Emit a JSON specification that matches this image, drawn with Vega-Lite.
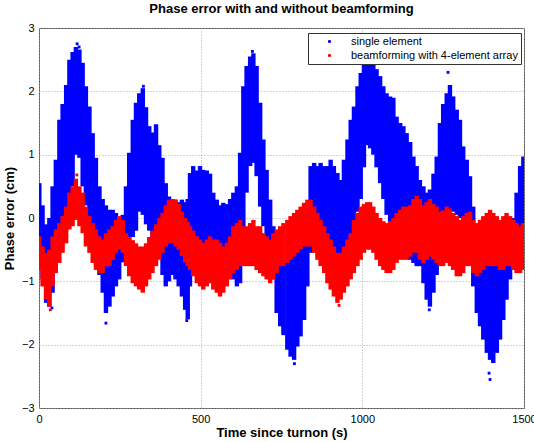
{
  "$schema": "https://vega.github.io/schema/vega-lite/v6.json",
  "width": 485,
  "height": 380,
  "autosize": {"type": "none"},
  "padding": {"left": 39, "top": 28, "right": 10, "bottom": 34},
  "background": "white",
  "title": {"text": "Phase error with and without beamforming", "fontSize": 13, "fontWeight": "bold", "font": "Liberation Sans", "anchor": "middle", "offset": 6, "color": "black"},
  "config": {
    "view": {"stroke": "#555", "strokeWidth": 1},
    "axis": {"labelFont": "Liberation Sans", "labelFontSize": 11, "labelColor": "black", "titleFont": "Liberation Sans", "titleFontSize": 13, "titleFontWeight": "bold", "titleColor": "black", "domain": false, "ticks": false, "gridColor": "#aaaaaa", "gridDash": [1, 2], "gridWidth": 1}
  },
  "datasets": {
    "blue": [
      {"s":"single element","t":1,"lo":-0.6,"hi":0.55},{"s":"single element","t":11,"lo":-0.97,"hi":0.2},{"s":"single element","t":22,"lo":-1.34,"hi":-0.1},{"s":"single element","t":32,"lo":-1.4,"hi":0.0},{"s":"single element","t":42,"lo":-1.18,"hi":0.5},{"s":"single element","t":52,"lo":-0.8,"hi":0.92},{"s":"single element","t":63,"lo":-0.5,"hi":1.55},{"s":"single element","t":73,"lo":-0.3,"hi":1.8},{"s":"single element","t":84,"lo":-0.2,"hi":2.1},{"s":"single element","t":94,"lo":0.0,"hi":2.5},{"s":"single element","t":104,"lo":0.5,"hi":2.62},{"s":"single element","t":114,"lo":1.0,"hi":2.7},{"s":"single element","t":125,"lo":0.95,"hi":2.66},{"s":"single element","t":135,"lo":0.5,"hi":2.45},{"s":"single element","t":145,"lo":0.2,"hi":2.08},{"s":"single element","t":156,"lo":-0.1,"hi":1.76},{"s":"single element","t":166,"lo":-0.3,"hi":1.34},{"s":"single element","t":176,"lo":-0.6,"hi":0.95},{"s":"single element","t":187,"lo":-0.9,"hi":0.5},{"s":"single element","t":197,"lo":-1.18,"hi":0.3},{"s":"single element","t":207,"lo":-1.5,"hi":0.2},{"s":"single element","t":218,"lo":-1.4,"hi":0.13},{"s":"single element","t":228,"lo":-1.24,"hi":0.13},{"s":"single element","t":238,"lo":-1.08,"hi":0.08},{"s":"single element","t":248,"lo":-0.97,"hi":0.0},{"s":"single element","t":259,"lo":-0.7,"hi":0.05},{"s":"single element","t":269,"lo":-0.5,"hi":0.5},{"s":"single element","t":279,"lo":-0.4,"hi":1.03},{"s":"single element","t":290,"lo":-0.3,"hi":1.55},{"s":"single element","t":300,"lo":-0.2,"hi":1.82},{"s":"single element","t":310,"lo":0.1,"hi":1.97},{"s":"single element","t":321,"lo":0.05,"hi":2.05},{"s":"single element","t":331,"lo":-0.1,"hi":1.75},{"s":"single element","t":341,"lo":-0.2,"hi":1.45},{"s":"single element","t":351,"lo":-0.3,"hi":1.35},{"s":"single element","t":362,"lo":-0.4,"hi":1.48},{"s":"single element","t":372,"lo":-0.6,"hi":1.15},{"s":"single element","t":382,"lo":-0.9,"hi":0.95},{"s":"single element","t":392,"lo":-1.08,"hi":0.55},{"s":"single element","t":402,"lo":-1.0,"hi":0.34},{"s":"single element","t":412,"lo":-0.9,"hi":0.3},{"s":"single element","t":422,"lo":-0.97,"hi":0.29},{"s":"single element","t":432,"lo":-1.08,"hi":0.25},{"s":"single element","t":442,"lo":-1.24,"hi":0.29},{"s":"single element","t":452,"lo":-1.45,"hi":0.25},{"s":"single element","t":460,"lo":-1.6,"hi":0.3},{"s":"single element","t":467,"lo":-1.08,"hi":0.71},{"s":"single element","t":477,"lo":-0.9,"hi":0.82},{"s":"single element","t":488,"lo":-0.8,"hi":0.75},{"s":"single element","t":498,"lo":-0.66,"hi":0.82},{"s":"single element","t":508,"lo":-0.6,"hi":0.76},{"s":"single element","t":519,"lo":-0.5,"hi":0.75},{"s":"single element","t":529,"lo":-0.5,"hi":0.7},{"s":"single element","t":539,"lo":-0.5,"hi":0.4},{"s":"single element","t":550,"lo":-0.55,"hi":0.29},{"s":"single element","t":560,"lo":-0.6,"hi":0.2},{"s":"single element","t":570,"lo":-0.66,"hi":0.24},{"s":"single element","t":581,"lo":-0.76,"hi":0.22},{"s":"single element","t":591,"lo":-0.87,"hi":0.3},{"s":"single element","t":601,"lo":-0.97,"hi":0.4},{"s":"single element","t":612,"lo":-1.08,"hi":0.5},{"s":"single element","t":622,"lo":-1.03,"hi":1.03},{"s":"single element","t":632,"lo":-0.5,"hi":2.08},{"s":"single element","t":642,"lo":0.4,"hi":2.4},{"s":"single element","t":653,"lo":0.82,"hi":2.55},{"s":"single element","t":663,"lo":0.87,"hi":2.6},{"s":"single element","t":673,"lo":0.66,"hi":2.4},{"s":"single element","t":684,"lo":0.18,"hi":1.82},{"s":"single element","t":694,"lo":-0.13,"hi":1.24},{"s":"single element","t":704,"lo":-0.34,"hi":0.76},{"s":"single element","t":715,"lo":-0.6,"hi":0.29},{"s":"single element","t":725,"lo":-0.97,"hi":-0.13},{"s":"single element","t":735,"lo":-1.5,"hi":-0.5},{"s":"single element","t":746,"lo":-1.71,"hi":-0.7},{"s":"single element","t":756,"lo":-1.85,"hi":-0.7},{"s":"single element","t":768,"lo":-2.08,"hi":-0.65},{"s":"single element","t":778,"lo":-2.19,"hi":-0.6},{"s":"single element","t":789,"lo":-2.24,"hi":-0.55},{"s":"single element","t":799,"lo":-2.03,"hi":-0.5},{"s":"single element","t":809,"lo":-1.87,"hi":-0.45},{"s":"single element","t":820,"lo":-1.61,"hi":-0.24},{"s":"single element","t":830,"lo":-1.08,"hi":0.18},{"s":"single element","t":840,"lo":-0.55,"hi":0.82},{"s":"single element","t":851,"lo":-0.45,"hi":0.87},{"s":"single element","t":861,"lo":-0.4,"hi":0.82},{"s":"single element","t":871,"lo":-0.45,"hi":0.87},{"s":"single element","t":882,"lo":-0.5,"hi":0.82},{"s":"single element","t":892,"lo":-0.6,"hi":0.82},{"s":"single element","t":902,"lo":-0.7,"hi":0.92},{"s":"single element","t":912,"lo":-0.8,"hi":0.82},{"s":"single element","t":923,"lo":-0.9,"hi":0.71},{"s":"single element","t":933,"lo":-0.9,"hi":0.6},{"s":"single element","t":943,"lo":-0.8,"hi":0.92},{"s":"single element","t":954,"lo":-0.6,"hi":1.24},{"s":"single element","t":964,"lo":-0.4,"hi":1.55},{"s":"single element","t":974,"lo":-0.2,"hi":1.76},{"s":"single element","t":985,"lo":0.1,"hi":2.08},{"s":"single element","t":995,"lo":0.3,"hi":2.29},{"s":"single element","t":1005,"lo":0.8,"hi":2.5},{"s":"single element","t":1015,"lo":1.15,"hi":2.5},{"s":"single element","t":1024,"lo":1.1,"hi":2.5},{"s":"single element","t":1034,"lo":1.0,"hi":2.45},{"s":"single element","t":1044,"lo":0.8,"hi":2.35},{"s":"single element","t":1055,"lo":0.55,"hi":2.24},{"s":"single element","t":1065,"lo":0.3,"hi":2.08},{"s":"single element","t":1075,"lo":0.05,"hi":1.97},{"s":"single element","t":1086,"lo":-0.1,"hi":1.92},{"s":"single element","t":1096,"lo":-0.2,"hi":1.9},{"s":"single element","t":1106,"lo":-0.3,"hi":1.6},{"s":"single element","t":1117,"lo":-0.4,"hi":1.5},{"s":"single element","t":1127,"lo":-0.55,"hi":1.45},{"s":"single element","t":1137,"lo":-0.65,"hi":1.34},{"s":"single element","t":1148,"lo":-0.66,"hi":1.2},{"s":"single element","t":1158,"lo":-0.71,"hi":0.97},{"s":"single element","t":1168,"lo":-0.76,"hi":0.82},{"s":"single element","t":1178,"lo":-0.76,"hi":0.6},{"s":"single element","t":1189,"lo":-1.03,"hi":0.5},{"s":"single element","t":1199,"lo":-1.29,"hi":0.4},{"s":"single element","t":1209,"lo":-1.4,"hi":0.45},{"s":"single element","t":1220,"lo":-1.18,"hi":0.7},{"s":"single element","t":1230,"lo":-0.9,"hi":0.97},{"s":"single element","t":1240,"lo":-0.5,"hi":1.5},{"s":"single element","t":1250,"lo":-0.2,"hi":1.8},{"s":"single element","t":1261,"lo":0.0,"hi":1.97},{"s":"single element","t":1271,"lo":0.1,"hi":2.1},{"s":"single element","t":1281,"lo":0.1,"hi":1.92},{"s":"single element","t":1292,"lo":0.05,"hi":1.71},{"s":"single element","t":1302,"lo":0.0,"hi":1.55},{"s":"single element","t":1312,"lo":-0.1,"hi":1.13},{"s":"single element","t":1323,"lo":-0.2,"hi":0.92},{"s":"single element","t":1333,"lo":-0.6,"hi":0.66},{"s":"single element","t":1343,"lo":-1.08,"hi":0.18},{"s":"single element","t":1354,"lo":-1.5,"hi":-0.2},{"s":"single element","t":1364,"lo":-1.71,"hi":-0.45},{"s":"single element","t":1374,"lo":-1.92,"hi":-0.55},{"s":"single element","t":1385,"lo":-2.13,"hi":-0.6},{"s":"single element","t":1395,"lo":-2.24,"hi":-0.6},{"s":"single element","t":1405,"lo":-2.29,"hi":-0.6},{"s":"single element","t":1416,"lo":-2.13,"hi":-0.6},{"s":"single element","t":1426,"lo":-1.92,"hi":-0.55},{"s":"single element","t":1436,"lo":-1.61,"hi":-0.45},{"s":"single element","t":1446,"lo":-1.29,"hi":-0.34},{"s":"single element","t":1457,"lo":-0.97,"hi":-0.24},{"s":"single element","t":1467,"lo":-0.76,"hi":0.0},{"s":"single element","t":1477,"lo":-0.6,"hi":0.4},{"s":"single element","t":1488,"lo":-0.5,"hi":0.82},{"s":"single element","t":1498,"lo":-0.5,"hi":0.97}
    ],
    "red": [
      {"s":"beamforming with 4-element array","t":1,"lo":-0.82,"hi":-0.29},{"s":"beamforming with 4-element array","t":11,"lo":-1.08,"hi":-0.45},{"s":"beamforming with 4-element array","t":22,"lo":-1.29,"hi":-0.55},{"s":"beamforming with 4-element array","t":32,"lo":-1.4,"hi":-0.5},{"s":"beamforming with 4-element array","t":42,"lo":-1.08,"hi":-0.29},{"s":"beamforming with 4-element array","t":52,"lo":-0.87,"hi":-0.18},{"s":"beamforming with 4-element array","t":63,"lo":-0.71,"hi":-0.08},{"s":"beamforming with 4-element array","t":73,"lo":-0.55,"hi":0.03},{"s":"beamforming with 4-element array","t":84,"lo":-0.4,"hi":0.18},{"s":"beamforming with 4-element array","t":94,"lo":-0.18,"hi":0.4},{"s":"beamforming with 4-element array","t":104,"lo":-0.13,"hi":0.5},{"s":"beamforming with 4-element array","t":114,"lo":-0.03,"hi":0.62},{"s":"beamforming with 4-element array","t":125,"lo":-0.13,"hi":0.5},{"s":"beamforming with 4-element array","t":135,"lo":-0.24,"hi":0.4},{"s":"beamforming with 4-element array","t":145,"lo":-0.45,"hi":0.18},{"s":"beamforming with 4-element array","t":156,"lo":-0.55,"hi":0.03},{"s":"beamforming with 4-element array","t":166,"lo":-0.71,"hi":-0.08},{"s":"beamforming with 4-element array","t":176,"lo":-0.82,"hi":-0.18},{"s":"beamforming with 4-element array","t":187,"lo":-0.87,"hi":-0.29},{"s":"beamforming with 4-element array","t":197,"lo":-0.87,"hi":-0.34},{"s":"beamforming with 4-element array","t":207,"lo":-0.76,"hi":-0.24},{"s":"beamforming with 4-element array","t":218,"lo":-0.76,"hi":-0.18},{"s":"beamforming with 4-element array","t":228,"lo":-0.66,"hi":-0.13},{"s":"beamforming with 4-element array","t":238,"lo":-0.55,"hi":-0.03},{"s":"beamforming with 4-element array","t":248,"lo":-0.5,"hi":0.03},{"s":"beamforming with 4-element array","t":259,"lo":-0.55,"hi":-0.03},{"s":"beamforming with 4-element array","t":269,"lo":-0.76,"hi":-0.24},{"s":"beamforming with 4-element array","t":279,"lo":-0.92,"hi":-0.3},{"s":"beamforming with 4-element array","t":290,"lo":-1.03,"hi":-0.35},{"s":"beamforming with 4-element array","t":300,"lo":-1.08,"hi":-0.4},{"s":"beamforming with 4-element array","t":310,"lo":-1.13,"hi":-0.45},{"s":"beamforming with 4-element array","t":321,"lo":-1.18,"hi":-0.45},{"s":"beamforming with 4-element array","t":331,"lo":-1.08,"hi":-0.4},{"s":"beamforming with 4-element array","t":341,"lo":-0.97,"hi":-0.3},{"s":"beamforming with 4-element array","t":351,"lo":-0.87,"hi":-0.2},{"s":"beamforming with 4-element array","t":362,"lo":-0.76,"hi":-0.1},{"s":"beamforming with 4-element array","t":372,"lo":-0.66,"hi":0.0},{"s":"beamforming with 4-element array","t":382,"lo":-0.55,"hi":0.08},{"s":"beamforming with 4-element array","t":392,"lo":-0.45,"hi":0.2},{"s":"beamforming with 4-element array","t":402,"lo":-0.4,"hi":0.29},{"s":"beamforming with 4-element array","t":412,"lo":-0.4,"hi":0.3},{"s":"beamforming with 4-element array","t":422,"lo":-0.45,"hi":0.29},{"s":"beamforming with 4-element array","t":432,"lo":-0.5,"hi":0.22},{"s":"beamforming with 4-element array","t":442,"lo":-0.6,"hi":0.1},{"s":"beamforming with 4-element array","t":452,"lo":-0.7,"hi":0.0},{"s":"beamforming with 4-element array","t":460,"lo":-0.76,"hi":-0.06},{"s":"beamforming with 4-element array","t":467,"lo":-0.82,"hi":-0.13},{"s":"beamforming with 4-element array","t":477,"lo":-0.92,"hi":-0.2},{"s":"beamforming with 4-element array","t":488,"lo":-1.03,"hi":-0.29},{"s":"beamforming with 4-element array","t":498,"lo":-1.08,"hi":-0.34},{"s":"beamforming with 4-element array","t":508,"lo":-1.13,"hi":-0.39},{"s":"beamforming with 4-element array","t":519,"lo":-1.08,"hi":-0.34},{"s":"beamforming with 4-element array","t":529,"lo":-1.03,"hi":-0.29},{"s":"beamforming with 4-element array","t":539,"lo":-1.13,"hi":-0.34},{"s":"beamforming with 4-element array","t":550,"lo":-1.18,"hi":-0.34},{"s":"beamforming with 4-element array","t":560,"lo":-1.24,"hi":-0.39},{"s":"beamforming with 4-element array","t":570,"lo":-1.18,"hi":-0.45},{"s":"beamforming with 4-element array","t":581,"lo":-1.08,"hi":-0.39},{"s":"beamforming with 4-element array","t":591,"lo":-0.97,"hi":-0.29},{"s":"beamforming with 4-element array","t":601,"lo":-0.87,"hi":-0.13},{"s":"beamforming with 4-element array","t":612,"lo":-0.82,"hi":-0.08},{"s":"beamforming with 4-element array","t":622,"lo":-0.76,"hi":-0.03},{"s":"beamforming with 4-element array","t":632,"lo":-0.76,"hi":-0.13},{"s":"beamforming with 4-element array","t":642,"lo":-0.76,"hi":-0.13},{"s":"beamforming with 4-element array","t":653,"lo":-0.76,"hi":-0.08},{"s":"beamforming with 4-element array","t":663,"lo":-0.76,"hi":-0.03},{"s":"beamforming with 4-element array","t":673,"lo":-0.82,"hi":-0.13},{"s":"beamforming with 4-element array","t":684,"lo":-0.87,"hi":-0.13},{"s":"beamforming with 4-element array","t":694,"lo":-0.92,"hi":-0.24},{"s":"beamforming with 4-element array","t":704,"lo":-0.97,"hi":-0.29},{"s":"beamforming with 4-element array","t":715,"lo":-1.03,"hi":-0.34},{"s":"beamforming with 4-element array","t":725,"lo":-0.97,"hi":-0.24},{"s":"beamforming with 4-element array","t":735,"lo":-0.87,"hi":-0.18},{"s":"beamforming with 4-element array","t":746,"lo":-0.76,"hi":-0.13},{"s":"beamforming with 4-element array","t":756,"lo":-0.76,"hi":-0.08},{"s":"beamforming with 4-element array","t":768,"lo":-0.71,"hi":-0.03},{"s":"beamforming with 4-element array","t":778,"lo":-0.66,"hi":0.03},{"s":"beamforming with 4-element array","t":789,"lo":-0.61,"hi":0.08},{"s":"beamforming with 4-element array","t":799,"lo":-0.55,"hi":0.13},{"s":"beamforming with 4-element array","t":809,"lo":-0.5,"hi":0.18},{"s":"beamforming with 4-element array","t":820,"lo":-0.45,"hi":0.24},{"s":"beamforming with 4-element array","t":830,"lo":-0.45,"hi":0.29},{"s":"beamforming with 4-element array","t":840,"lo":-0.45,"hi":0.29},{"s":"beamforming with 4-element array","t":851,"lo":-0.55,"hi":0.18},{"s":"beamforming with 4-element array","t":861,"lo":-0.66,"hi":0.08},{"s":"beamforming with 4-element array","t":871,"lo":-0.76,"hi":-0.03},{"s":"beamforming with 4-element array","t":882,"lo":-0.87,"hi":-0.13},{"s":"beamforming with 4-element array","t":892,"lo":-1.03,"hi":-0.24},{"s":"beamforming with 4-element array","t":902,"lo":-1.13,"hi":-0.34},{"s":"beamforming with 4-element array","t":912,"lo":-1.24,"hi":-0.45},{"s":"beamforming with 4-element array","t":923,"lo":-1.34,"hi":-0.55},{"s":"beamforming with 4-element array","t":933,"lo":-1.29,"hi":-0.55},{"s":"beamforming with 4-element array","t":943,"lo":-1.18,"hi":-0.45},{"s":"beamforming with 4-element array","t":954,"lo":-1.08,"hi":-0.34},{"s":"beamforming with 4-element array","t":964,"lo":-0.97,"hi":-0.24},{"s":"beamforming with 4-element array","t":974,"lo":-0.87,"hi":-0.03},{"s":"beamforming with 4-element array","t":985,"lo":-0.76,"hi":0.08},{"s":"beamforming with 4-element array","t":995,"lo":-0.66,"hi":0.18},{"s":"beamforming with 4-element array","t":1005,"lo":-0.55,"hi":0.22},{"s":"beamforming with 4-element array","t":1015,"lo":-0.5,"hi":0.25},{"s":"beamforming with 4-element array","t":1024,"lo":-0.5,"hi":0.25},{"s":"beamforming with 4-element array","t":1034,"lo":-0.55,"hi":0.18},{"s":"beamforming with 4-element array","t":1044,"lo":-0.66,"hi":0.08},{"s":"beamforming with 4-element array","t":1055,"lo":-0.76,"hi":0.0},{"s":"beamforming with 4-element array","t":1065,"lo":-0.82,"hi":-0.05},{"s":"beamforming with 4-element array","t":1075,"lo":-0.87,"hi":-0.08},{"s":"beamforming with 4-element array","t":1086,"lo":-0.87,"hi":-0.05},{"s":"beamforming with 4-element array","t":1096,"lo":-0.82,"hi":0.0},{"s":"beamforming with 4-element array","t":1106,"lo":-0.71,"hi":0.08},{"s":"beamforming with 4-element array","t":1117,"lo":-0.66,"hi":0.13},{"s":"beamforming with 4-element array","t":1127,"lo":-0.66,"hi":0.18},{"s":"beamforming with 4-element array","t":1137,"lo":-0.66,"hi":0.18},{"s":"beamforming with 4-element array","t":1148,"lo":-0.61,"hi":0.2},{"s":"beamforming with 4-element array","t":1158,"lo":-0.55,"hi":0.3},{"s":"beamforming with 4-element array","t":1168,"lo":-0.55,"hi":0.35},{"s":"beamforming with 4-element array","t":1178,"lo":-0.66,"hi":0.3},{"s":"beamforming with 4-element array","t":1189,"lo":-0.71,"hi":0.2},{"s":"beamforming with 4-element array","t":1199,"lo":-0.66,"hi":0.25},{"s":"beamforming with 4-element array","t":1209,"lo":-0.61,"hi":0.3},{"s":"beamforming with 4-element array","t":1220,"lo":-0.66,"hi":0.22},{"s":"beamforming with 4-element array","t":1230,"lo":-0.71,"hi":0.18},{"s":"beamforming with 4-element array","t":1240,"lo":-0.76,"hi":0.1},{"s":"beamforming with 4-element array","t":1250,"lo":-0.76,"hi":0.12},{"s":"beamforming with 4-element array","t":1261,"lo":-0.71,"hi":0.18},{"s":"beamforming with 4-element array","t":1271,"lo":-0.76,"hi":0.15},{"s":"beamforming with 4-element array","t":1281,"lo":-0.82,"hi":0.08},{"s":"beamforming with 4-element array","t":1292,"lo":-0.92,"hi":0.03},{"s":"beamforming with 4-element array","t":1302,"lo":-0.92,"hi":-0.03},{"s":"beamforming with 4-element array","t":1312,"lo":-0.87,"hi":0.03},{"s":"beamforming with 4-element array","t":1323,"lo":-0.76,"hi":0.08},{"s":"beamforming with 4-element array","t":1333,"lo":-0.76,"hi":0.1},{"s":"beamforming with 4-element array","t":1343,"lo":-0.87,"hi":-0.03},{"s":"beamforming with 4-element array","t":1354,"lo":-0.92,"hi":-0.08},{"s":"beamforming with 4-element array","t":1364,"lo":-0.87,"hi":-0.03},{"s":"beamforming with 4-element array","t":1374,"lo":-0.82,"hi":0.03},{"s":"beamforming with 4-element array","t":1385,"lo":-0.76,"hi":0.08},{"s":"beamforming with 4-element array","t":1395,"lo":-0.76,"hi":0.13},{"s":"beamforming with 4-element array","t":1405,"lo":-0.76,"hi":0.08},{"s":"beamforming with 4-element array","t":1416,"lo":-0.76,"hi":0.03},{"s":"beamforming with 4-element array","t":1426,"lo":-0.82,"hi":-0.03},{"s":"beamforming with 4-element array","t":1436,"lo":-0.82,"hi":0.03},{"s":"beamforming with 4-element array","t":1446,"lo":-0.76,"hi":0.08},{"s":"beamforming with 4-element array","t":1457,"lo":-0.76,"hi":0.03},{"s":"beamforming with 4-element array","t":1467,"lo":-0.82,"hi":-0.03},{"s":"beamforming with 4-element array","t":1477,"lo":-0.87,"hi":-0.08},{"s":"beamforming with 4-element array","t":1488,"lo":-0.87,"hi":-0.13},{"s":"beamforming with 4-element array","t":1498,"lo":-0.82,"hi":-0.08}
    ],
    "outliers": [
      {"s":"single element","t":118,"v":2.75},{"s":"single element","t":124,"v":2.7},{"s":"single element","t":660,"v":2.63},{"s":"single element","t":323,"v":2.08},{"s":"single element","t":207,"v":-1.66},{"s":"single element","t":457,"v":-1.62},{"s":"single element","t":1395,"v":-2.55},{"s":"single element","t":1392,"v":-2.45},{"s":"single element","t":1268,"v":2.45},{"s":"single element","t":1265,"v":2.3},{"s":"single element","t":1207,"v":-1.45},{"s":"single element","t":790,"v":-2.3},{"s":"single element","t":40,"v":-1.42},
      {"s":"beamforming with 4-element array","t":117,"v":0.68},{"s":"beamforming with 4-element array","t":928,"v":-1.38},{"s":"beamforming with 4-element array","t":35,"v":-1.45}
    ]
  },
  "encoding": {
    "x": {"field": "t", "type": "quantitative", "scale": {"domain": [0, 1500], "nice": false}, "axis": {"values": [0, 500, 1000, 1500], "format": "d", "title": "Time since turnon (s)", "labelPadding": 5, "titlePadding": 2, "labelFlush": false}},
    "color": {"field": "s", "type": "nominal", "scale": {"domain": ["single element", "beamforming with 4-element array"], "range": ["#0000ff", "#ff0000"]},
      "legend": {"title": null, "orient": "none", "legendX": 269, "legendY": 5, "fillColor": "white", "strokeColor": "#333", "padding": 3, "symbolType": "circle", "symbolSize": 3, "symbolStrokeWidth": 1.5, "symbolOffset": 13, "labelOffset": 16, "labelFontSize": 11, "labelFont": "Liberation Sans", "labelColor": "black", "labelLimit": 400, "rowPadding": 2}}
  },
  "layer": [
    {"data": {"name": "blue"}, "mark": {"type": "rule", "strokeWidth": 4.4, "clip": true},
     "encoding": {"y": {"field": "lo", "type": "quantitative", "scale": {"domain": [-3, 3], "nice": false}, "axis": {"values": [-3, -2, -1, 0, 1, 2, 3], "format": "d", "title": "Phase error (cm)", "labelPadding": 5, "titlePadding": 5, "labelFlush": false}}, "y2": {"field": "hi"}}},
    {"data": {"name": "red"}, "mark": {"type": "rule", "strokeWidth": 4.4, "clip": true},
     "encoding": {"y": {"field": "lo", "type": "quantitative"}, "y2": {"field": "hi"}}},
    {"data": {"name": "outliers"}, "mark": {"type": "point", "filled": true, "size": 8, "opacity": 1, "shape": "square", "clip": true},
     "encoding": {"y": {"field": "v", "type": "quantitative"}}}
  ]
}
